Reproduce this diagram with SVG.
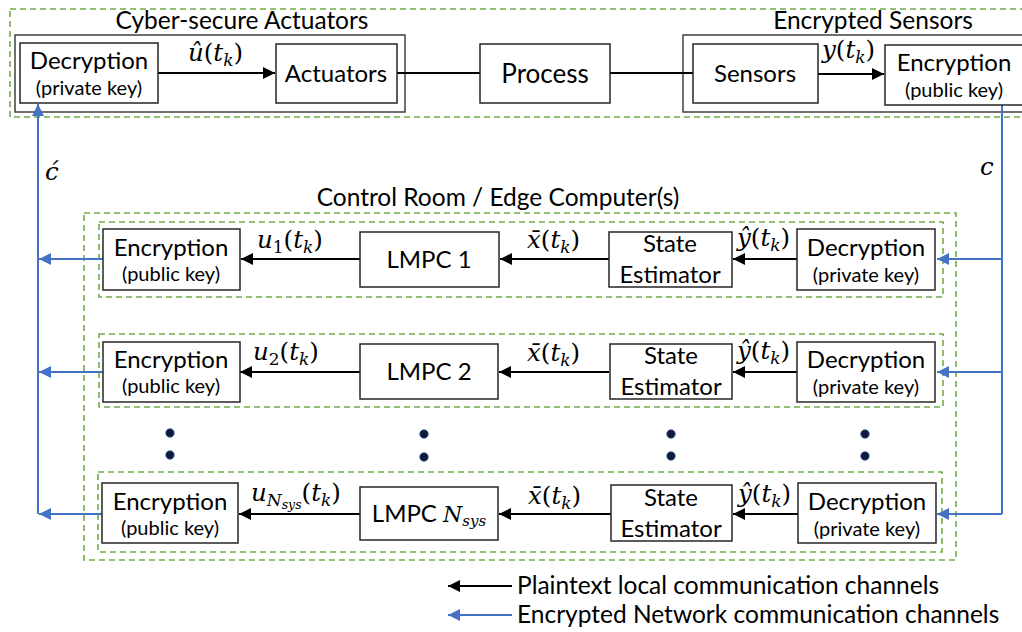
<svg xmlns="http://www.w3.org/2000/svg" width="1022" height="632" viewBox="0 0 1022 632">
<defs>
<style>
.grp{fill:none;stroke:#70AD47;stroke-width:1.6;stroke-dasharray:6 4}
.outer{fill:none;stroke:#404040;stroke-width:1.5}
.box{fill:#fff;stroke:#262626;stroke-width:1.5}
.t{font-family:Lato,"Open Sans",sans-serif;fill:#000;text-anchor:middle}
.big{font-size:26px}
.mid{font-size:24px}
.sm{font-size:20px}
.title{font-family:Lato,"Open Sans",sans-serif;font-size:24.5px;fill:#000;text-anchor:middle}
.m{font-family:"DejaVu Serif","Liberation Serif",serif;font-size:24.5px;fill:#000}
.mi{font-style:italic}
.blk{stroke:#000;stroke-width:2;fill:none}
.blu{stroke:#4472C4;stroke-width:2;fill:none}
.dot{fill:#0d1a3a;stroke:#2f4f8f;stroke-width:0.8}
.leg{font-family:Lato,"Open Sans",sans-serif;font-size:24.5px;fill:#000}
</style>
<marker id="ab" viewBox="0 0 10 10" refX="10" refY="5" markerWidth="6" markerHeight="6" markerUnits="strokeWidth" orient="auto"><path d="M0,0 L10,5 L0,10 z" fill="#000"/></marker>
<marker id="au" viewBox="0 0 10 10" refX="10" refY="5" markerWidth="6" markerHeight="6" markerUnits="strokeWidth" orient="auto"><path d="M0,0 L10,5 L0,10 z" fill="#4472C4"/></marker>
</defs>

<!-- group frames -->
<g id="frames">
<rect class="grp" x="10" y="9" width="1016" height="108"/>
<rect class="outer" x="15" y="35" width="390" height="77"/>
<text class="title" x="242" y="29">Cyber-secure Actuators</text>
<rect class="outer" x="683" y="35" width="345" height="77"/>
<text class="title" x="873" y="29">Encrypted Sensors</text>
<rect class="grp" x="84" y="213" width="872" height="347"/>
<text class="title" x="498" y="206">Control Room / Edge Computer(s)</text>
<rect class="grp" x="99" y="222" width="844" height="75"/>
<rect class="grp" x="99" y="334" width="844" height="73"/>
<rect class="grp" x="98" y="472" width="844" height="80"/>
</g>

<!-- connectors -->
<g id="connectors">
<line class="blk" x1="158" y1="73" x2="275" y2="73" marker-end="url(#ab)"/>
<line class="blk" x1="397" y1="73" x2="480" y2="73"/>
<line class="blk" x1="610" y1="73" x2="693" y2="73"/>
<line class="blk" x1="818" y1="74" x2="884" y2="74" marker-end="url(#ab)"/>
<!-- right network bus -->
<polyline class="blu" points="1002,105 1002,514"/>
<line class="blu" x1="1002" y1="259" x2="937" y2="259" marker-end="url(#au)"/>
<line class="blu" x1="1002" y1="372" x2="937" y2="372" marker-end="url(#au)"/>
<line class="blu" x1="1002" y1="514" x2="937" y2="514" marker-end="url(#au)"/>
<!-- left network bus -->
<line class="blu" x1="38" y1="514" x2="38" y2="104" marker-end="url(#au)"/>
<line class="blu" x1="103" y1="259" x2="39" y2="259" marker-end="url(#au)"/>
<line class="blu" x1="103" y1="372" x2="39" y2="372" marker-end="url(#au)"/>
<line class="blu" x1="103" y1="514" x2="39" y2="514" marker-end="url(#au)"/>
<!-- row 1 -->
<line class="blk" x1="797" y1="259" x2="733" y2="259" marker-end="url(#ab)"/>
<line class="blk" x1="609" y1="259" x2="500" y2="259" marker-end="url(#ab)"/>
<line class="blk" x1="360" y1="259" x2="241" y2="259" marker-end="url(#ab)"/>
<!-- row 2 -->
<line class="blk" x1="797" y1="372" x2="733" y2="372" marker-end="url(#ab)"/>
<line class="blk" x1="609" y1="372" x2="499" y2="372" marker-end="url(#ab)"/>
<line class="blk" x1="360" y1="372" x2="240" y2="372" marker-end="url(#ab)"/>
<!-- row 3 -->
<line class="blk" x1="798" y1="514" x2="733" y2="514" marker-end="url(#ab)"/>
<line class="blk" x1="611" y1="514" x2="499" y2="514" marker-end="url(#ab)"/>
<line class="blk" x1="360" y1="514" x2="239" y2="514" marker-end="url(#ab)"/>
<!-- legend -->
<line class="blk" x1="512" y1="586" x2="448" y2="586" marker-end="url(#ab)"/>
<line class="blu" x1="512" y1="615" x2="448" y2="615" marker-end="url(#au)"/>
</g>

<!-- connector labels -->
<g id="labels">
<text class="m" x="188" y="61"><tspan class="mi">û</tspan>(<tspan class="mi">t</tspan><tspan class="mi" font-size="17" dy="5">k</tspan><tspan dy="-5">)</tspan></text>
<text class="m" x="822" y="58"><tspan class="mi">y</tspan>(<tspan class="mi">t</tspan><tspan class="mi" font-size="17" dy="5">k</tspan><tspan dy="-5">)</tspan></text>
<text class="m" x="45" y="180"><tspan class="mi">ć</tspan></text>
<text class="m" x="980" y="175"><tspan class="mi">c</tspan></text>

<text class="m" x="257" y="248"><tspan class="mi">u</tspan><tspan font-size="17" dy="5">1</tspan><tspan dy="-5">(</tspan><tspan class="mi">t</tspan><tspan class="mi" font-size="17" dy="5">k</tspan><tspan dy="-5">)</tspan></text>
<text class="m" x="527" y="248"><tspan class="mi">x̄</tspan>(<tspan class="mi">t</tspan><tspan class="mi" font-size="17" dy="5">k</tspan><tspan dy="-5">)</tspan></text>
<text class="m" x="737" y="246"><tspan class="mi">ŷ</tspan>(<tspan class="mi">t</tspan><tspan class="mi" font-size="17" dy="5">k</tspan><tspan dy="-5">)</tspan></text>

<text class="m" x="253" y="360"><tspan class="mi">u</tspan><tspan font-size="17" dy="5">2</tspan><tspan dy="-5">(</tspan><tspan class="mi">t</tspan><tspan class="mi" font-size="17" dy="5">k</tspan><tspan dy="-5">)</tspan></text>
<text class="m" x="527" y="361"><tspan class="mi">x̄</tspan>(<tspan class="mi">t</tspan><tspan class="mi" font-size="17" dy="5">k</tspan><tspan dy="-5">)</tspan></text>
<text class="m" x="737" y="359"><tspan class="mi">ŷ</tspan>(<tspan class="mi">t</tspan><tspan class="mi" font-size="17" dy="5">k</tspan><tspan dy="-5">)</tspan></text>

<text class="m" x="251" y="501"><tspan class="mi">u</tspan><tspan class="mi" font-size="17" dy="5">N</tspan><tspan class="mi" font-size="12.5" dy="3">sys</tspan><tspan dy="-8">(</tspan><tspan class="mi">t</tspan><tspan class="mi" font-size="17" dy="5">k</tspan><tspan dy="-5">)</tspan></text>
<text class="m" x="528" y="504"><tspan class="mi">x̄</tspan>(<tspan class="mi">t</tspan><tspan class="mi" font-size="17" dy="5">k</tspan><tspan dy="-5">)</tspan></text>
<text class="m" x="738" y="502"><tspan class="mi">ŷ</tspan>(<tspan class="mi">t</tspan><tspan class="mi" font-size="17" dy="5">k</tspan><tspan dy="-5">)</tspan></text>
</g>

<!-- top nodes -->
<g id="act-decryption">
<rect class="box" x="20" y="43" width="138" height="60"/>
<text class="t mid" x="89" y="69">Decryption</text>
<text class="t sm" x="89" y="95">(private key)</text>
</g>
<g id="actuators">
<rect class="box" x="276" y="44" width="121" height="59"/>
<text class="t mid" x="336" y="82">Actuators</text>
</g>
<g id="process">
<rect class="box" x="480" y="44" width="130" height="59"/>
<text class="t big" x="545" y="83">Process</text>
</g>
<g id="sensors">
<rect class="box" x="693" y="44" width="125" height="59"/>
<text class="t mid" x="755" y="82">Sensors</text>
</g>
<g id="sens-encryption">
<rect class="box" x="885" y="45" width="140" height="60"/>
<text class="t mid" x="954" y="71">Encryption</text>
<text class="t sm" x="954" y="97">(public key)</text>
</g>

<!-- row 1 -->
<g id="enc1">
<rect class="box" x="103" y="229" width="137" height="61"/>
<text class="t mid" x="171" y="256">Encryption</text>
<text class="t sm" x="171" y="281">(public key)</text>
</g>
<g id="lmpc1">
<rect class="box" x="360" y="232" width="139" height="55"/>
<text class="t mid" x="429" y="268">LMPC 1</text>
</g>
<g id="se1">
<rect class="box" x="609" y="232" width="123" height="55"/>
<text class="t mid" x="670" y="252">State</text>
<text class="t mid" x="670" y="283">Estimator</text>
</g>
<g id="dec1">
<rect class="box" x="797" y="229" width="138" height="61"/>
<text class="t mid" x="866" y="256">Decryption</text>
<text class="t sm" x="866" y="282">(private key)</text>
</g>

<!-- row 2 -->
<g id="enc2">
<rect class="box" x="103" y="342" width="137" height="60"/>
<text class="t mid" x="171" y="368">Encryption</text>
<text class="t sm" x="171" y="393">(public key)</text>
</g>
<g id="lmpc2">
<rect class="box" x="360" y="344" width="138" height="55"/>
<text class="t mid" x="429" y="380">LMPC 2</text>
</g>
<g id="se2">
<rect class="box" x="610" y="344" width="122" height="55"/>
<text class="t mid" x="671" y="364">State</text>
<text class="t mid" x="671" y="395">Estimator</text>
</g>
<g id="dec2">
<rect class="box" x="797" y="342" width="138" height="60"/>
<text class="t mid" x="866" y="368">Decryption</text>
<text class="t sm" x="866" y="394">(private key)</text>
</g>

<!-- row 3 -->
<g id="enc3">
<rect class="box" x="102" y="483" width="136" height="60"/>
<text class="t mid" x="170" y="510">Encryption</text>
<text class="t sm" x="170" y="535">(public key)</text>
</g>
<g id="lmpcN">
<rect class="box" x="360" y="487" width="138" height="53"/>
<text class="t mid" x="429" y="522">LMPC <tspan font-family="DejaVu Serif,serif" font-style="italic" font-size="22">N</tspan><tspan font-family="DejaVu Serif,serif" font-style="italic" font-size="15" dy="4">sys</tspan></text>
</g>
<g id="seN">
<rect class="box" x="611" y="485" width="121" height="56"/>
<text class="t mid" x="671" y="506">State</text>
<text class="t mid" x="671" y="537">Estimator</text>
</g>
<g id="decN">
<rect class="box" x="798" y="483" width="138" height="60"/>
<text class="t mid" x="867" y="510">Decryption</text>
<text class="t sm" x="867" y="536">(private key)</text>
</g>

<!-- ellipsis dots -->
<g id="dots">
<circle class="dot" cx="170" cy="433" r="4.2"/>
<circle class="dot" cx="170" cy="455" r="4.2"/>
<circle class="dot" cx="424" cy="434" r="4.2"/>
<circle class="dot" cx="424" cy="457" r="4.2"/>
<circle class="dot" cx="671" cy="434" r="4.2"/>
<circle class="dot" cx="671" cy="456" r="4.2"/>
<circle class="dot" cx="865" cy="434" r="4.2"/>
<circle class="dot" cx="865" cy="456" r="4.2"/>
</g>

<!-- legend -->
<g id="legend">
<text class="leg" x="517" y="594">Plaintext local communication channels</text>
<text class="leg" x="517" y="623">Encrypted Network communication channels</text>
</g>
</svg>
